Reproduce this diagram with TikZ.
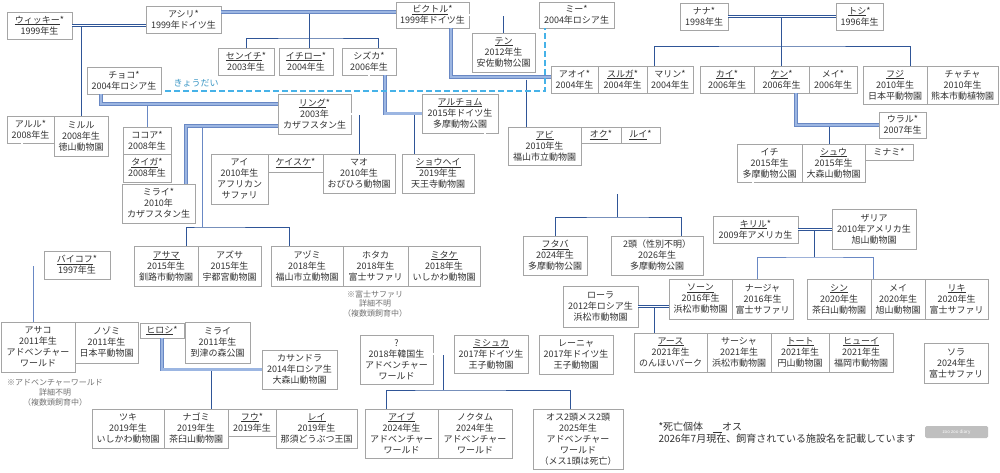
\documentclass[tikz,border=0pt]{standalone}
\usepackage{fontspec}
\setmainfont{Noto Sans CJK JP}
\usepackage{tikz}
\definecolor{boxgray}{RGB}{165,165,165}
\definecolor{textgray}{RGB}{50,50,50}
\definecolor{lnblue}{RGB}{47,85,151}
\definecolor{lnmid}{RGB}{105,136,196}
\definecolor{lnlight}{RGB}{156,182,226}
\definecolor{sibblue}{RGB}{70,178,232}
\newcommand{\oslin}[1]{\setbox0\hbox{#1}\rlap{\rule[-1.6pt]{\wd0}{0.8pt}}\box0}
\tikzset{
    box/.style={rectangle, draw=boxgray, line width=0.6pt, fill=white, text=textgray, inner sep=1pt, align=center, font=\fontsize{9}{11}\selectfont},
    sz/.style 2 args={minimum width=#1pt, minimum height=#2pt},
    couple_dark/.style={draw=lnblue, line width=0.6pt, double=white, double distance=1.3pt},
    couple_blue/.style={draw=lnmid, line width=0.6pt, double=lnlight, double distance=2.2pt},
    kid_line/.style={draw=lnblue, line width=0.7pt},
    kid_light/.style={draw=lnmid, line width=1pt},
    sib_line/.style={draw=sibblue, line width=1.3pt, dash pattern=on 6pt off 3pt},
    note_text/.style={align=center, text=gray!90!black, font=\fontsize{8}{9.8}\selectfont}
}

\begin{document}
\begin{tikzpicture}[x=1pt, y=-1pt]
    \fill [white] (0,0) rectangle (1000,472);
    \useasboundingbox (0,0) rectangle (1000,472);

    % First generation
    \node (wicky) [box, sz={65}{27}] at (39.5,25.5) {\oslin{ウィッキー}*\\1999年生};
    \node (ashiri) [box, sz={75}{27}] at (183.5,19.5) {アシリ*\\1999年ドイツ生};
    \node (victor) [box, sz={73}{26}] at (432.5,15) {\oslin{ビクトル}*\\1999年ドイツ生};
    \node (mee) [box, sz={75}{26}] at (576.5,15) {ミー*\\2004年ロシア生};
    \node (nana) [box, sz={48}{27}] at (704,16.5) {ナナ*\\1998年生};
    \node (toshi) [box, sz={47}{27}] at (859.5,16.5) {\oslin{トシ}*\\1996年生};

    % Second generation
    \node (choco) [box, sz={74}{27}] at (124,80.5) {チョコ*\\2004年ロシア生};
    \node (senichi) [box, sz={56}{27}] at (246,61.5) {\oslin{センイチ}*\\2003年生};
    \node (ichiro) [box, sz={54}{27}] at (306,61.5) {\oslin{イチロー}*\\2004年生};
    \node (shizuka) [box, sz={54}{27}] at (369,61.5) {シズカ*\\2006年生};
    \node (ten) [box, sz={63}{39}] at (503.5,52.5) {\oslin{テン}\\2012年生\\安佐動物公園};
    \node (aoi) [box, sz={47}{27}] at (574.5,79.5) {アオイ*\\2004年生};
    \node (suruga) [box, sz={49}{27}] at (622.5,79.5) {\oslin{スルガ}*\\2004年生};
    \node (marin) [box, sz={46}{27}] at (670,79.5) {マリン*\\2004年生};
    \node (kai) [box, sz={54}{27}] at (727,79.5) {\oslin{カイ}*\\2006年生};
    \node (ken) [box, sz={55}{27}] at (781.5,79.5) {\oslin{ケン}*\\2006年生};
    \node (mei_a) [box, sz={48}{27}] at (833,79.5) {メイ*\\2006年生};
    \node (fuji) [box, sz={64}{38}] at (895,85) {\oslin{フジ}\\2010年生\\日本平動物園};
    \node (chacha) [box, sz={71}{38}] at (962.5,85) {チャチャ\\2010年生\\熊本市動植物園};
    \node (ural) [box, sz={47}{26}] at (902.5,125) {ウラル*\\2007年生};

    % Third generation
    \node (aruru) [box, sz={47}{27}] at (30.5,129.5) {アルル*\\2008年生};
    \node (miruru) [box, sz={54}{40}] at (81,136) {ミルル\\2008年生\\徳山動物園};
    \node (cocoa) [box, sz={48}{27}] at (147,140.5) {ココア*\\2008年生};
    \node (taiga) [box, sz={48}{28}] at (147,168) {\oslin{タイガ}*\\2008年生};
    \node (mirai_a) [box, sz={73}{39}] at (158.5,203.5) {ミライ*\\2010年\\カザフスタン生};
    \node (ring) [box, sz={73}{40}] at (314.5,114) {\oslin{リング}*\\2003年\\カザフスタン生};
    \node (artyom) [box, sz={76}{39}] at (460,113.5) {\oslin{アルチョム}\\2015年ドイツ生\\多摩動物公園};
    \node (abi) [box, sz={73}{38}] at (544.5,146) {\oslin{アビ}\\2010年生\\福山市立動物園};
    \node (oku) [box, sz={40}{16}] at (601,135) {\oslin{オク}*};
    \node (rui) [box, sz={39}{16}] at (640.5,135) {\oslin{ルイ}*};
    \node (ai) [box, sz={57}{50}] at (239.5,179) {アイ\\2010年生\\アフリカン\\サファリ};
    \node (keisuke) [box, sz={55}{18}] at (295.5,163) {\oslin{ケイスケ}*};
    \node (mao) [box, sz={72}{39}] at (359,173.5) {マオ\\2010年生\\おびひろ動物園};
    \node (shohei) [box, sz={72}{39}] at (438,173.5) {\oslin{ショウヘイ}\\2019年生\\天王寺動物園};
    \node (ichi) [box, sz={65}{38}] at (769.5,163) {イチ\\2015年生\\多摩動物公園};
    \node (shu) [box, sz={63}{38}] at (833.5,163) {\oslin{シュウ}\\2015年生\\大森山動物園};
    \node (minami) [box, sz={48}{16}] at (889,152) {ミナミ*};
    \node (kiril) [box, sz={85}{27}] at (755.5,229.5) {\oslin{キリル}*\\2009年アメリカ生};
    \node (zaria) [box, sz={84}{40}] at (874,229) {ザリア\\2010年アメリカ生\\旭山動物園};

    % Fourth generation
    \node (futaba) [box, sz={64}{39}] at (555,255.5) {\oslin{フタバ}\\2024年生\\多摩動物公園};
    \node (twins) [box, sz={92}{39}] at (657,255.5) {2頭（性別不明）\\2026年生\\多摩動物公園};
    \node (asama) [box, sz={64}{40}] at (166,266) {\oslin{アサマ}\\2015年生\\釧路市動物園};
    \node (azusa) [box, sz={63}{40}] at (229.5,266) {アズサ\\2015年生\\宇都宮動物園};
    \node (azumi) [box, sz={72}{40}] at (307,266) {アヅミ\\2018年生\\福山市立動物園};
    \node (hotaka) [box, sz={65}{40}] at (375.5,266) {ホタカ\\2018年生\\富士サファリ};
    \node (mitake) [box, sz={72}{40}] at (444,266) {\oslin{ミタケ}\\2018年生\\いしかわ動物園};
    \node (baikof) [box, sz={66}{28}] at (77,265) {\oslin{バイコフ}*\\1997年生};
    \node (lola) [box, sz={75}{41}] at (600.5,306.5) {ローラ\\2012年ロシア生\\浜松市動物園};
    \node (thorn) [box, sz={63}{40}] at (700.5,299) {\oslin{ソーン}\\2016年生\\浜松市動物園};
    \node (nadya) [box, sz={61}{40}] at (762.5,299) {ナージャ\\2016年生\\富士サファリ};
    \node (shin) [box, sz={64}{40}] at (839,299) {\oslin{シン}\\2020年生\\茶臼山動物園};
    \node (mei_b) [box, sz={54}{40}] at (898,299) {メイ\\2020年生\\旭山動物園};
    \node (riki) [box, sz={63}{40}] at (956.5,299) {\oslin{リキ}\\2020年生\\富士サファリ};

    % Fifth generation
    \node (asako) [box, sz={74}{50}] at (38,347) {アサコ\\2011年生\\アドベンチャー\\ワールド};
    \node (nozomi) [box, sz={63}{41}] at (106.5,342.5) {ノゾミ\\2011年生\\日本平動物園};
    \node (hiroshi) [box, sz={44}{15}] at (162,330.5) {\oslin{ヒロシ}*};
    \node (mirai_b) [box, sz={65}{41}] at (217.5,342.5) {ミライ\\2011年生\\到津の森公園};
    \node (cassandra) [box, sz={75}{39}] at (299.5,369.5) {カサンドラ\\2014年ロシア生\\大森山動物園};
    \node (unknown) [box, sz={73}{49}] at (396.5,359.5) {?\\2018年韓国生\\アドベンチャー\\ワールド};
    \node (mishka) [box, sz={74}{38}] at (491,354) {\oslin{ミシュカ}\\2017年ドイツ生\\王子動物園};
    \node (lenya) [box, sz={74}{39}] at (576,354.5) {レーニャ\\2017年ドイツ生\\王子動物園};
    \node (earth) [box, sz={73}{39}] at (670.5,352.5) {\oslin{アース}\\2021年生\\のんほいパーク};
    \node (sasha) [box, sz={64}{39}] at (739,352.5) {サーシャ\\2021年生\\浜松市動物園};
    \node (toto) [box, sz={58}{39}] at (800,352.5) {\oslin{トート}\\2021年生\\円山動物園};
    \node (huey) [box, sz={64}{39}] at (861,352.5) {\oslin{ヒューイ}\\2021年生\\福岡市動物園};
    \node (sora) [box, sz={64}{40}] at (956,363) {ソラ\\2024年生\\富士サファリ};

    % Sixth generation
    \node (tsuki) [box, sz={72}{39}] at (128,428.5) {ツキ\\2019年生\\いしかわ動物園};
    \node (nagomi) [box, sz={64}{39}] at (196,428.5) {ナゴミ\\2019年生\\茶臼山動物園};
    \node (fuu) [box, sz={48}{27}] at (252,422.5) {\oslin{フウ}*\\2019年生};
    \node (rei) [box, sz={81}{39}] at (316.5,428.5) {\oslin{レイ}\\2019年生\\那須どうぶつ王国};
    \node (aibu) [box, sz={73}{49}] at (401.5,433.5) {\oslin{アイブ}\\2024年生\\アドベンチャー\\ワールド};
    \node (noctam) [box, sz={74}{49}] at (475,433.5) {ノクタム\\2024年生\\アドベンチャー\\ワールド};
    \node (osu) [box, sz={90}{60}] at (578,439) {オス2頭メス2頭\\2025年生\\アドベンチャー\\ワールド\\（メス1頭は死亡）};

    % Notes and legend
    \node (note_aw) [note_text] at (55,393) {※アドベンチャーワールド\\詳細不明\\（複数頭飼育中）};
    \node (note_fs) [note_text] at (375,304) {※富士サファリ\\詳細不明\\（複数頭飼育中）};
    \node (legend) [anchor=north west, align=left, text=textgray, font=\fontsize{10}{12}\selectfont] at (655,419) {*死亡個体\quad\oslin{\hspace{9pt}}オス\\2026年7月現在、飼育されている施設名を記載しています};
    \node (badge) [rectangle, rounded corners=1.5pt, fill=gray!50, text=white, sz={63}{12}, inner sep=0pt, font=\fontsize{4.5}{5}\selectfont] at (956.5,432) {zoo zoo diary};

    % Junction points
    \coordinate (av) at (309,12);
    \coordinate (avbus) at (309,38);
    \coordinate (va) at (526,79.5);
    \coordinate (ntbus) at (782,46);
    \coordinate (ku) at (829,125);
    \coordinate (sa) at (414,113.5);
    \coordinate (cr) at (147,104);
    \coordinate (mr) at (202,126);
    \coordinate (mrbus) at (202,227);
    \coordinate (ayi) at (617,193);
    \coordinate (ayibus) at (617,217);
    \coordinate (ab) at (33,265);
    \coordinate (hc) at (211,369.5);
    \coordinate (um) at (443,354);
    \coordinate (umbus) at (443,390);
    \coordinate (lt) at (654,306.5);
    \coordinate (kz) at (814,229.5);
    \coordinate (kzbus) at (814,257);

    % Offspring lines
    \draw [kid_line] (wicky.east -| miruru.north) -- (miruru.north);
    \draw [kid_line] (av) -- (avbus);
    \draw [kid_line] (senichi.north) |- (avbus) -| ([xshift=9pt]shizuka.north);
    \draw [kid_line] (avbus) -- (ichiro.north -| avbus);
    \draw [kid_line] (victor.east -| ten.north) -- (ten.north);
    \draw [kid_line] (va) -- (va |- abi.north);
    \draw [kid_line] (nana.east -| ken.north) -- (ken.north);
    \draw [kid_line] ([xshift=-16pt]marin.north) |- (ntbus) -| ([xshift=15pt]fuji.north);
    \draw [kid_line] (ku) -- (ku |- shu.north);
    \draw [kid_line] (ring.east -| mao.north) -- (mao.north);
    \draw [kid_line] (sa) -- (sa |- shohei.north);
    \draw [kid_light] (cr) -- (cocoa.north);
    \draw [kid_light] (mr) -- (mrbus);
    \draw [kid_line] ([xshift=20pt]asama.north) |- (mrbus) -| ([xshift=-18pt]azumi.north);
    \draw [kid_line] (ayi) -- (ayibus);
    \draw [kid_line] (futaba.north) |- (ayibus) -| ([xshift=24pt]twins.north);
    \draw [kid_light] (ab) -- (ab |- asako.north);
    \draw [kid_line] (hc) -- (hc |- nagomi.north);
    \draw [kid_line] (um) -- (umbus);
    \draw [kid_line] ([xshift=-15.5pt]aibu.north) |- (umbus) -| ([xshift=-8pt]osu.north);
    \draw [kid_line] (lt) -- (lt |- earth.north);
    \draw [kid_line] (kz) -- (kzbus);
    \draw [kid_light] ([xshift=-5.5pt]nadya.north) |- (kzbus) -| ([xshift=-25pt]mei_b.north);

    % Pair lines
    \draw [couple_dark] (wicky.east) -- (wicky.east -| ashiri.west);
    \draw [couple_blue] (ashiri.east |- av) -- (victor.west |- av);
    \draw [couple_dark] (victor.east) -- (mee.west);
    \draw [couple_blue] ([xshift=18.5pt]victor.south) |- ([yshift=2.5pt]aoi.west);
    \draw [couple_dark] (nana.east) -- (toshi.west);
    \draw [couple_blue] ([xshift=14.5pt]ken.south) |- (ural.west);
    \draw [couple_dark] ([xshift=25pt]artyom.south) |- (ayi) -| ([xshift=-16.5pt]ichi.south);
    \draw [couple_dark] (shizuka.south) |- (ring.east);
    \draw [couple_blue] ([xshift=16pt]shizuka.south) |- (artyom.west);
    \draw [couple_blue] ([xshift=-23pt]choco.south) |- ([yshift=10pt]ring.west);
    \draw [couple_blue] ([xshift=27.5pt]mirai_a.north) |- ([yshift=-12pt]ring.west);
    \draw [couple_dark] ([xshift=-8.5pt]aruru.south) |- (baikof.west);
    \draw [couple_blue] (hiroshi.south) |- (cassandra.west);
    \draw [couple_dark] (unknown.east |- mishka.west) -- (mishka.west);
    \draw [couple_dark] (lola.east) -- (lola.east -| thorn.west);
    \draw [couple_dark] (kiril.east) -- (kiril.east -| zaria.west);

    % Sibling marker
    \draw [sib_line, shorten <=4pt] ([yshift=-10.5pt]choco.east) -| ([xshift=-31.5pt]mee.south);
    \node (kyodai) [text=sibblue!85!black, font=\fontsize{9}{10}\selectfont] at (196,83) {きょうだい};
\end{tikzpicture}
\end{document}
